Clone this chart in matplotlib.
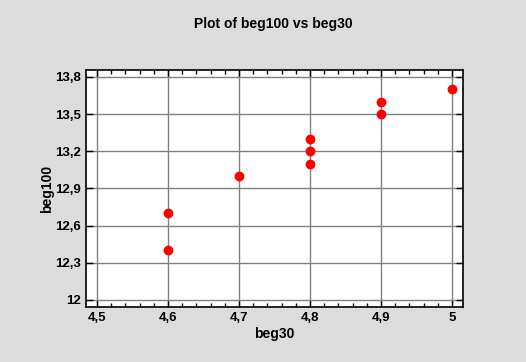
import matplotlib
matplotlib.use("Agg")
import matplotlib.pyplot as plt
from matplotlib.ticker import MultipleLocator, FuncFormatter

beg30 = [4.6, 4.6, 4.7, 4.8, 4.8, 4.8, 4.9, 4.9, 5.0]
beg100 = [12.4, 12.7, 13.0, 13.1, 13.2, 13.3, 13.5, 13.6, 13.7]

x_ticks = [4.5, 4.6, 4.7, 4.8, 4.9, 5.0]
y_ticks = [12.0, 12.3, 12.6, 12.9, 13.2, 13.5, 13.8]

plt.rcParams['font.family'] = ['Liberation Sans', 'DejaVu Sans']

fig = plt.figure(figsize=(5.26, 3.62), dpi=100, facecolor='#dcdcdc')
ax = fig.add_axes([86 / 526, 1 - 307 / 362, (463 - 86) / 526, (307 - 70) / 362])
ax.set_facecolor('white')

ax.scatter(beg30, beg100, s=50, c='#ff0000', marker='o', zorder=3, linewidths=0)

ax.set_xlim(4.4845, 5.0155)
ax.set_ylim(11.9435, 13.856)
ax.set_xticks(x_ticks)
ax.set_yticks(y_ticks)
ax.xaxis.set_minor_locator(MultipleLocator(0.02))


def fmt(v, pos):
    s = ('%.1f' % v).rstrip('0').rstrip('.')
    return s.replace('.', ',')


ax.xaxis.set_major_formatter(FuncFormatter(fmt))
ax.yaxis.set_major_formatter(FuncFormatter(fmt))

ax.grid(True, color='#808080', linewidth=1)
ax.set_axisbelow(True)
ax.tick_params(which='both', direction='in', top=True, right=True, colors='black',
               labelsize=9.5)
ax.tick_params(which='major', length=5, width=1)
ax.tick_params(which='minor', length=3, width=1)
for lab in ax.get_xticklabels() + ax.get_yticklabels():
    lab.set_fontweight('bold')
for sp in ax.spines.values():
    sp.set_linewidth(1.2)
    sp.set_color('black')

ax.set_xlabel('beg30', fontsize=10, fontweight='bold', labelpad=2)
ax.set_ylabel('beg100', fontsize=10, fontweight='bold', labelpad=1)
fig.text(273 / 526, 1 - 24 / 362, 'Plot of beg100 vs beg30', ha='center', va='center',
         fontsize=10, fontweight='bold')

fig.savefig('out.png', dpi=100, facecolor=fig.get_facecolor())
